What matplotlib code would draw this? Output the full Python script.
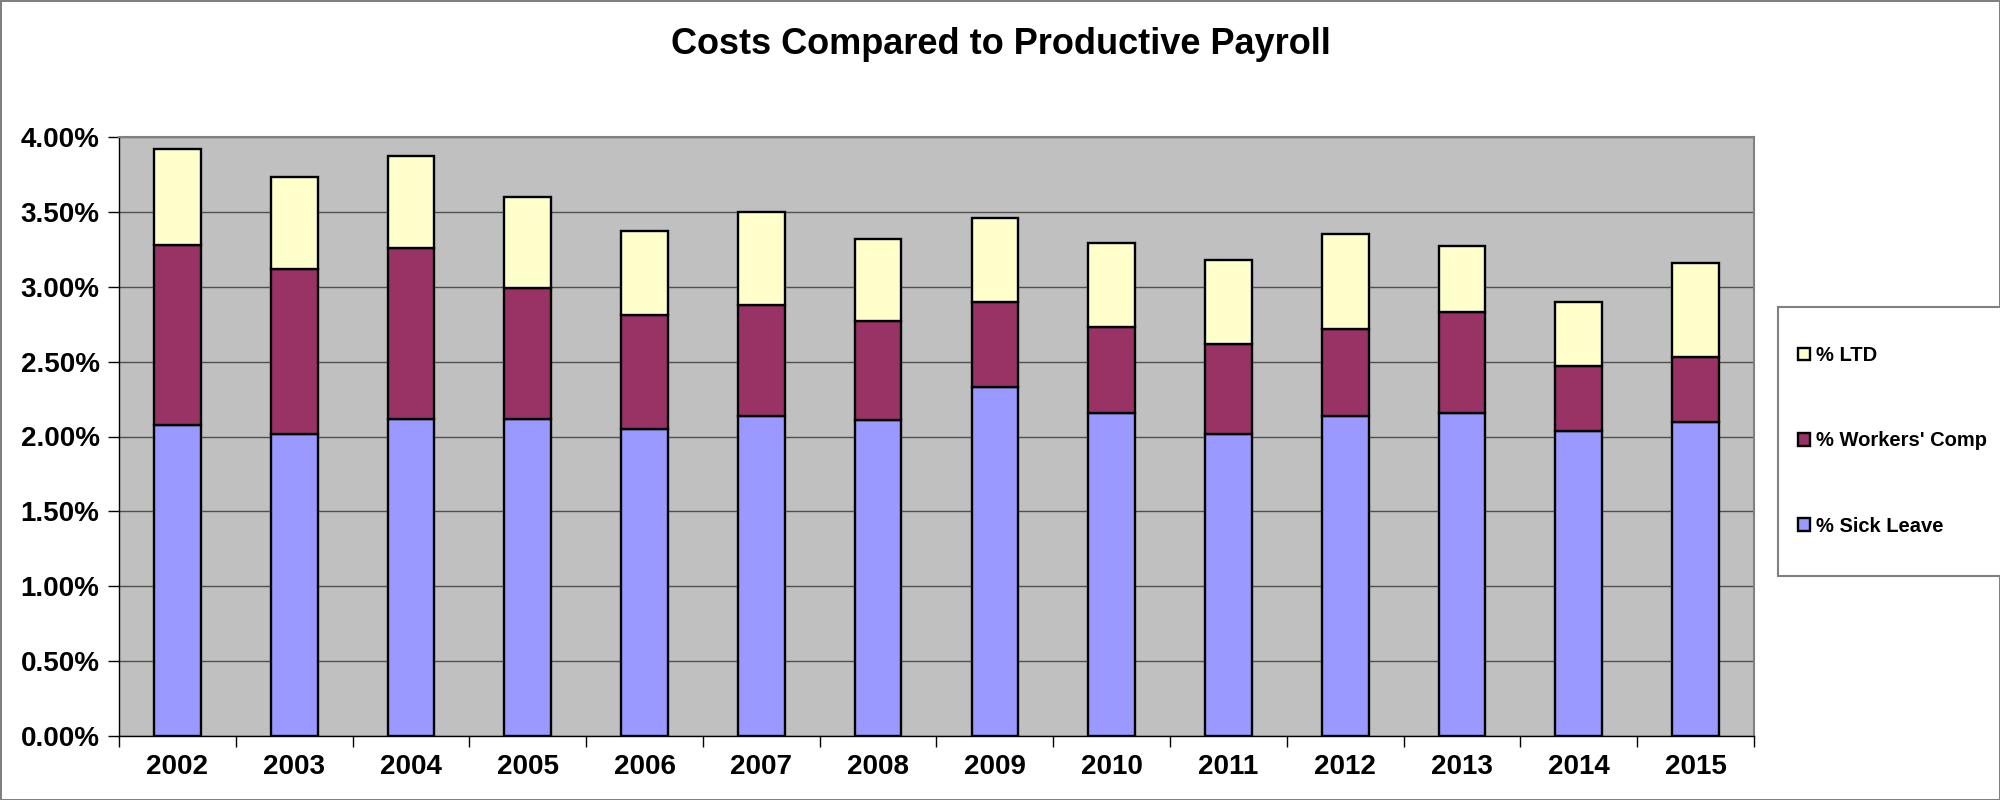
import matplotlib.pyplot as plt
from matplotlib.patches import Rectangle
from matplotlib.ticker import FuncFormatter, FixedLocator

years = ['2002', '2003', '2004', '2005', '2006', '2007', '2008',
         '2009', '2010', '2011', '2012', '2013', '2014', '2015']

# values in percent of productive payroll
sick_leave = [2.08, 2.02, 2.12, 2.12, 2.05, 2.14, 2.11,
              2.33, 2.16, 2.02, 2.14, 2.16, 2.04, 2.10]
# top of the workers' comp segment (cumulative)
wc_top = [3.28, 3.12, 3.26, 2.99, 2.81, 2.88, 2.77,
          2.90, 2.73, 2.62, 2.72, 2.83, 2.47, 2.53]
# bar totals
total = [3.92, 3.73, 3.87, 3.60, 3.37, 3.50, 3.32,
         3.46, 3.29, 3.18, 3.35, 3.27, 2.90, 3.16]

workers_comp = [w - s for w, s in zip(wc_top, sick_leave)]
ltd = [t - w for t, w in zip(total, wc_top)]

labels = ['% Sick Leave', "% Workers' Comp", '% LTD']
colors = ['#9999FF', '#993366', '#FFFFCC']

plt.rcParams.update({
    "font.family": ["Liberation Sans", "DejaVu Sans"],
    "font.weight": "bold"})

fig = plt.figure(figsize=(20, 8), dpi=100)
fig.patch.set_edgecolor('#808080')
fig.patch.set_linewidth(2)
ax = fig.add_axes([0.0595, 0.08, 0.8175, 0.74875])
ax.set_facecolor('#C0C0C0')

x = list(range(len(years)))
bw = 0.4
b1 = ax.bar(x, sick_leave, bw, color=colors[0], edgecolor='black', linewidth=1.7, zorder=3)
b2 = ax.bar(x, workers_comp, bw, bottom=sick_leave, color=colors[1], edgecolor='black', linewidth=1.7, zorder=3)
b3 = ax.bar(x, ltd, bw, bottom=wc_top, color=colors[2], edgecolor='black', linewidth=1.7, zorder=3)

ax.set_xlim(-0.5, len(years) - 0.5)
ax.set_ylim(0, 4.0)
ax.set_yticks([i * 0.5 for i in range(9)])
ax.yaxis.set_major_formatter(FuncFormatter(lambda v, p: '%.2f%%' % v))
ax.grid(axis='y', color='#505050', lw=1.0, zorder=1)

# tick marks between categories, labels under the bars
ax.xaxis.set_major_locator(FixedLocator([i - 0.5 for i in range(len(years) + 1)]))
ax.xaxis.set_minor_locator(FixedLocator(x))
ax.set_xticklabels([], minor=False)
ax.set_xticklabels(years, minor=True)
ax.tick_params(axis='x', which='major', length=8, width=1, direction='out')
ax.tick_params(axis='x', which='minor', length=0, pad=13, labelsize=20)
ax.tick_params(axis='y', length=8, width=1, direction='out', labelsize=20, pad=6)

for s in ax.spines.values():
    s.set_color('#808080')
    s.set_linewidth(1.5)
ax.spines['bottom'].set_color('black')
ax.spines['bottom'].set_linewidth(1)
ax.spines['left'].set_color('black')
ax.spines['left'].set_linewidth(1)

fig.text(0.5005, 0.944, 'Costs Compared to Productive Payroll', ha='center', va='center',
         fontsize=26, fontweight='bold')

# legend box
fig.patches.append(Rectangle((1778 / 2000, 1 - 576 / 800), 0.13, 269 / 800,
                             transform=fig.transFigure, facecolor='white',
                             edgecolor='#808080', linewidth=1.5))
leg = fig.legend([b3, b2, b1], labels[::-1], loc='center left',
                 bbox_to_anchor=(1790 / 2000, 1 - 441 / 800), frameon=False,
                 fontsize=14.5, labelspacing=3.3, handlelength=0.6, handleheight=0.6,
                 handletextpad=0.3, borderaxespad=0)

plt.savefig('out.png', dpi=100)
